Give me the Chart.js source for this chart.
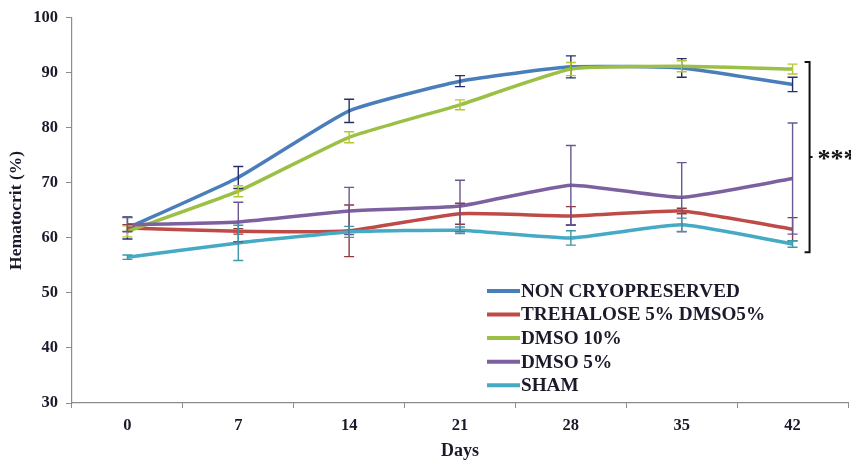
<!DOCTYPE html>
<html>
<head>
<meta charset="utf-8">
<script src="https://cdn.jsdelivr.net/npm/chart.js@4"></script>
<style>
  html, body { margin: 0; padding: 0; background: #ffffff; }
  #wrap { width: 851px; height: 464px; position: relative; }
</style>
</head>
<body>
<div id="wrap"><canvas id="chart" width="851" height="464"></canvas></div>
<script>
// Hematocrit (%) over storage days, mean ± error per group
const days = ['0', '7', '14', '21', '28', '35', '42'];

const nonCryo      = [61.8, 71.0, 83.1, 88.5, 91.1, 90.9, 87.9];
const nonCryoErr   = [2.0, 2.0, 2.1, 1.0, 2.0, 1.7, 1.3];

const trehalose    = [61.8, 61.2, 61.3, 64.4, 64.0, 64.9, 61.6];
const trehaloseErr = [0.6, 0.5, 4.7, 1.9, 1.7, 0.5, 2.1];

const dmso10       = [61.2, 68.5, 78.3, 84.2, 90.7, 91.2, 90.7];
const dmso10Err    = [1.0, 1.0, 1.0, 0.9, 1.2, 1.0, 0.9];

const dmso5        = [62.4, 62.9, 64.9, 65.8, 69.6, 67.4, 70.8];
const dmso5Err     = [1.3, 3.6, 4.3, 4.7, 7.2, 6.3, 10.1];

const sham         = [56.5, 59.1, 61.1, 61.4, 60.0, 62.4, 58.9];
const shamErr      = [0.4, 3.2, 1.0, 0.6, 1.3, 1.2, 0.6];

const seriesNames = ['NON CRYOPRESERVED', 'TREHALOSE 5% DMSO5%', 'DMSO 10%', 'DMSO 5%', 'SHAM'];

// significance bracket spanning the groups at day 42
const bracketTop = 92.0;
const bracketBottom = 57.4;
const bracketLabel = '***';

const yTicksMin = 30, yTicksMax = 100, yTicksStep = 10;

const serif = '"Liberation Serif", "Times New Roman", serif';
const textColor = '#1c1a2a';

const lineColors = ['#4a7ebb', '#be4b48', '#9cbf45', '#7d60a0', '#46aac5'];
const errColors  = ['#25306a', '#8e3a40', '#b4c832', '#6a5890', '#3e98a8'];

const values = [nonCryo, trehalose, dmso10, dmso5, sham];
const errors = [nonCryoErr, trehaloseErr, dmso10Err, dmso5Err, shamErr];

const datasets = values.map((v, i) => ({
  label: seriesNames[i],
  data: v,
  errors: errors[i],
  errColor: errColors[i],
  borderColor: lineColors[i],
  backgroundColor: lineColors[i],
  borderWidth: 3.5,
  pointRadius: 0,
  pointHoverRadius: 0,
  tension: 0.15,
  fill: false,
  order: values.length - i
}));

// vertical error bars with caps, drawn over the lines
const errorBars = {
  id: 'errorBars',
  afterDatasetsDraw(chart) {
    const { ctx, scales: { x, y } } = chart;
    ctx.save();
    ctx.lineWidth = 1.4;
    chart.data.datasets.forEach(ds => {
      ctx.strokeStyle = ds.errColor;
      ds.data.forEach((v, j) => {
        const e = ds.errors[j];
        const px = x.getPixelForValue(j);
        const yHi = y.getPixelForValue(v + e);
        const yLo = y.getPixelForValue(v - e);
        ctx.beginPath();
        ctx.moveTo(px, yHi); ctx.lineTo(px, yLo);
        ctx.moveTo(px - 5, yHi); ctx.lineTo(px + 5, yHi);
        ctx.moveTo(px - 5, yLo); ctx.lineTo(px + 5, yLo);
        ctx.stroke();
      });
    });
    ctx.restore();
  }
};

// legend placed inside the plot, lower right
const innerLegend = {
  id: 'innerLegend',
  afterDraw(chart) {
    const { ctx, chartArea } = chart;
    const left = chartArea.left + 415;
    const top = chartArea.top + 273;
    const rowH = 23.6;
    ctx.save();
    ctx.font = 'bold 19.2px ' + serif;
    ctx.textBaseline = 'middle';
    ctx.textAlign = 'left';
    chart.data.datasets.forEach((ds, i) => {
      const cy = top + i * rowH;
      ctx.strokeStyle = ds.borderColor;
      ctx.lineWidth = 4;
      ctx.beginPath();
      ctx.moveTo(left, cy); ctx.lineTo(left + 33, cy);
      ctx.stroke();
      ctx.fillStyle = textColor;
      ctx.fillText(ds.label, left + 34, cy + 1);
    });
    ctx.restore();
  }
};

// significance bracket "]" with asterisks
const bracket = {
  id: 'bracket',
  afterDraw(chart) {
    const { ctx, scales: { x, y } } = chart;
    const bx = x.getPixelForValue(days.length - 1) + 17;
    const yT = y.getPixelForValue(bracketTop);
    const yB = y.getPixelForValue(bracketBottom);
    const yM = (yT + yB) / 2;
    ctx.save();
    ctx.strokeStyle = '#111111';
    ctx.lineWidth = 2;
    ctx.beginPath();
    ctx.moveTo(bx - 5, yT); ctx.lineTo(bx, yT); ctx.lineTo(bx, yB); ctx.lineTo(bx - 5, yB);
    ctx.moveTo(bx, yM); ctx.lineTo(bx + 3, yM);
    ctx.stroke();
    ctx.fillStyle = '#111111';
    ctx.font = 'bold 26px ' + serif;
    ctx.textBaseline = 'middle';
    ctx.textAlign = 'left';
    ctx.fillText(bracketLabel, bx + 8, yM + 3);
    ctx.restore();
  }
};

new Chart(document.getElementById('chart'), {
  type: 'line',
  data: { labels: days, datasets },
  plugins: [errorBars, innerLegend, bracket],
  options: {
    responsive: false,
    animation: false,
    events: [],
    layout: { padding: { top: 16, right: 3, bottom: 0, left: 0 } },
    plugins: { legend: { display: false }, tooltip: { enabled: false } },
    scales: {
      x: {
        type: 'category',
        offset: true,
        afterFit(scale) { scale.height = 61; },
        grid: {
          offset: true,
          drawOnChartArea: false,
          drawTicks: true,
          tickLength: 5,
          color: '#8c8c8c'
        },
        border: { display: true, color: '#8c8c8c', width: 1.2 },
        ticks: {
          color: textColor,
          padding: 8,
          maxRotation: 0,
          font: { family: serif, size: 16.5, weight: 'bold' }
        },
        title: {
          display: true,
          text: 'Days',
          color: textColor,
          padding: { top: 0, bottom: 2 },
          font: { family: serif, size: 18, weight: 'bold' }
        }
      },
      y: {
        min: yTicksMin,
        max: yTicksMax,
        afterFit(scale) { scale.width = 72; },
        grid: {
          drawOnChartArea: false,
          drawTicks: true,
          tickLength: 6,
          color: '#8c8c8c'
        },
        border: { display: true, color: '#8c8c8c', width: 1.2 },
        ticks: {
          stepSize: yTicksStep,
          color: textColor,
          padding: 8,
          font: { family: serif, size: 16.5, weight: 'bold' }
        },
        title: {
          display: true,
          text: 'Hematocrit (%)',
          color: textColor,
          padding: { top: 6, bottom: 0 },
          font: { family: serif, size: 17.5, weight: 'bold' }
        }
      }
    }
  }
});
</script>
</body>
</html>
